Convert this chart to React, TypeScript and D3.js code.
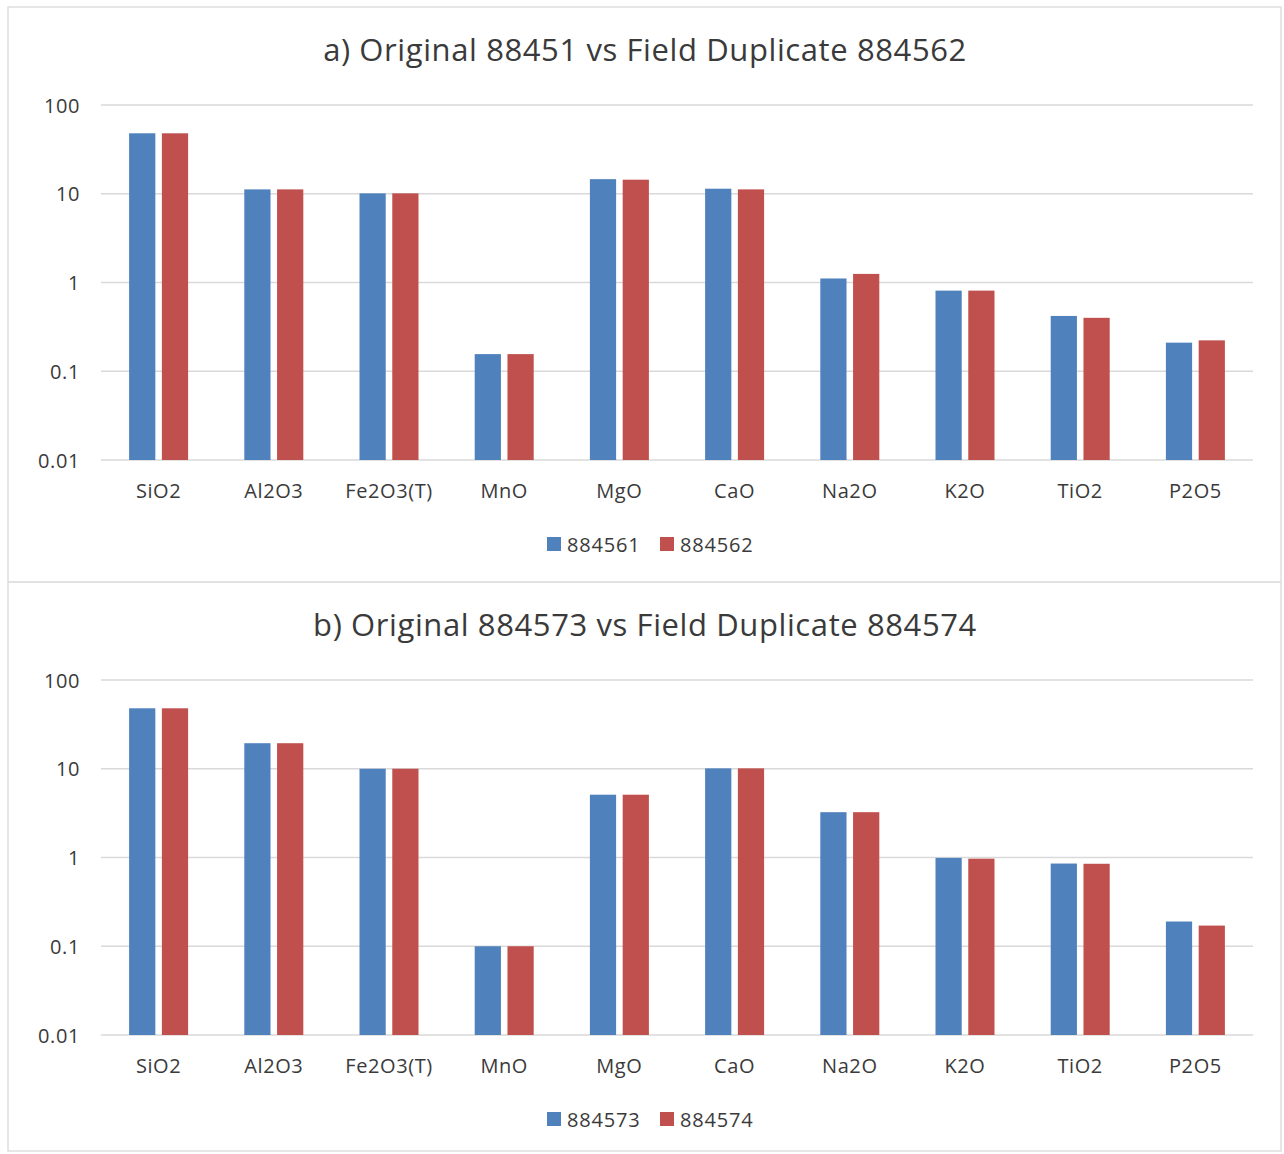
import React from "react";
import * as d3 from "d3";

// oxides on the x axis
const categories = ["SiO2", "Al2O3", "Fe2O3(T)", "MnO", "MgO", "CaO", "Na2O", "K2O", "TiO2", "P2O5"];
const yTicks = [0.01, 0.1, 1, 10, 100];

// chart a
const titleA = "a) Original 88451 vs Field Duplicate 884562";
const seriesA = ["884561", "884562"];
const original884561 = [48, 11.2, 10.1, 0.156, 14.6, 11.4, 1.11, 0.81, 0.42, 0.21];
const duplicate884562 = [48, 11.2, 10.1, 0.156, 14.4, 11.2, 1.25, 0.81, 0.40, 0.223];

// chart b
const titleB = "b) Original 884573 vs Field Duplicate 884574";
const seriesB = ["884573", "884574"];
const original884573 = [48, 19.4, 10, 0.1, 5.1, 10.1, 3.24, 0.99, 0.855, 0.19];
const duplicate884574 = [48, 19.4, 10, 0.1, 5.1, 10.1, 3.24, 0.97, 0.85, 0.171];

const colors = ["#4f81bd", "#c0504d"];
const font = "'Open Sans', sans-serif";
const textColor = "#3a3a3a";

const W = 1284;
const left = 101;
const right = 1253;
const gridTop = 98;
const gridBottom = 453;

const Chart = ({ top, title, names, values }) => {
  const x = d3.scaleBand().domain(categories).range([left, right]);
  const groupW = 59;
  const x1 = d3.scaleBand().domain(names).range([0, groupW]).paddingInner(0.2);
  const y = d3.scaleLog().domain([0.01, 100]).range([gridBottom, gridTop]);
  const off = (x.bandwidth() - groupW) / 2;

  return (
    <g transform={`translate(0,${top})`}>
      <text x={645} y={42} textAnchor="middle" dominantBaseline="central"
        fontFamily={font} fontSize={31} letterSpacing={0.6} fill={textColor}>{title}</text>

      {yTicks.map(t => (
        <g key={t}>
          <line x1={left} x2={right} y1={y(t)} y2={y(t)} stroke="#d9d9d9" strokeWidth={1.3} />
          <text x={80} y={y(t)} textAnchor="end" dominantBaseline="central"
            fontFamily={font} fontSize={20} letterSpacing={0.6} fill={textColor}>{t}</text>
        </g>
      ))}

      {categories.map((c, i) => (
        <g key={c}>
          {names.map((n, j) => (
            <rect key={n}
              x={x(c) + off + x1(n)}
              y={y(values[j][i])}
              width={x1.bandwidth()}
              height={gridBottom - y(values[j][i])}
              fill={colors[j]} />
          ))}
          <text x={x(c) + x.bandwidth() / 2} y={483} textAnchor="middle" dominantBaseline="central"
            fontFamily={font} fontSize={20} letterSpacing={0.6} fill={textColor}>{c}</text>
        </g>
      ))}

      {names.map((n, j) => (
        <g key={n} transform={`translate(${547 + j * 113},537)`}>
          <rect x={0} y={-7} width={14} height={14} fill={colors[j]} />
          <text x={20} y={0} dominantBaseline="central" fontFamily={font} fontSize={20}
            letterSpacing={0.8} fill={textColor}>{n}</text>
        </g>
      ))}
    </g>
  );
};

const App = () => (
  <svg width={W} height={1154} style={{ position: "absolute", left: 0, top: 0, background: "#fff" }}>
    <rect x={8} y={7} width={1273} height={1144} fill="#fff" stroke="#d9d9d9" strokeWidth={1.3} />
    <line x1={8} x2={1281} y1={582} y2={582} stroke="#d9d9d9" strokeWidth={1.3} />
    <Chart top={7} title={titleA} names={seriesA} values={[original884561, duplicate884562]} />
    <Chart top={582} title={titleB} names={seriesB} values={[original884573, duplicate884574]} />
  </svg>
);

export default App;
